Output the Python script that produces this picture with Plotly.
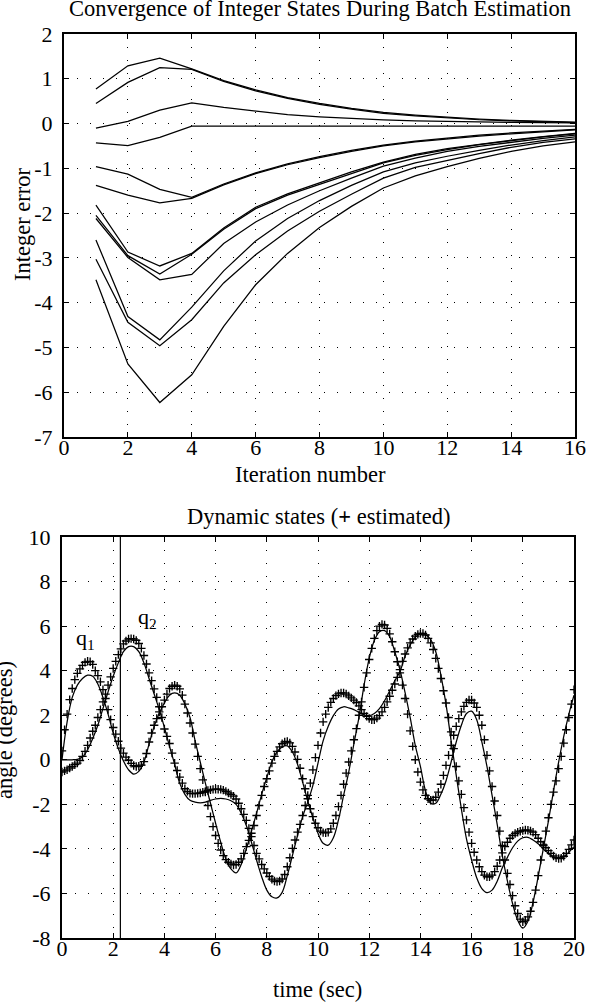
import plotly.graph_objects as go

# ---------------- top panel data ----------------
iterations = list(range(1, 17))
err_1 = [0.77, 1.29, 1.46, 1.22, 0.96, 0.75, 0.58, 0.45, 0.34, 0.25, 0.19, 0.14, 0.10, 0.07, 0.05, 0.03]
err_2 = [0.45, 0.92, 1.25, 1.21, 0.94, 0.73, 0.56, 0.43, 0.32, 0.23, 0.17, 0.12, 0.085, 0.06, 0.04, 0.02]
err_3 = [-0.10, 0.05, 0.30, 0.46, 0.36, 0.28, 0.20, 0.15, 0.11, 0.08, 0.06, 0.045, 0.035, 0.025, 0.02, 0.015]
err_4 = [-0.43, -0.49, -0.31, -0.06, -0.06, -0.06, -0.06, -0.06, -0.06, -0.06, -0.06, -0.06, -0.06, -0.06, -0.06, -0.06]
err_5 = [-0.96, -1.13, -1.47, -1.65, -1.35, -1.10, -0.90, -0.74, -0.60, -0.48, -0.39, -0.32, -0.26, -0.21, -0.17, -0.13]
err_6 = [-1.38, -1.60, -1.77, -1.67, -1.37, -1.12, -0.92, -0.76, -0.62, -0.50, -0.41, -0.34, -0.28, -0.23, -0.18, -0.14]
err_7 = [-1.82, -2.87, -3.18, -2.90, -2.33, -1.87, -1.57, -1.33, -1.08, -0.86, -0.69, -0.56, -0.46, -0.37, -0.29, -0.22]
err_8 = [-2.05, -2.95, -3.36, -2.92, -2.36, -1.90, -1.60, -1.36, -1.11, -0.88, -0.71, -0.58, -0.47, -0.38, -0.30, -0.23]
err_9 = [-2.12, -2.99, -3.49, -3.37, -2.68, -2.20, -1.82, -1.50, -1.22, -0.95, -0.77, -0.62, -0.51, -0.42, -0.33, -0.26]
err_10 = [-2.60, -4.31, -4.83, -4.10, -3.29, -2.62, -2.12, -1.72, -1.38, -1.08, -0.88, -0.73, -0.60, -0.48, -0.38, -0.30]
err_11 = [-3.03, -4.44, -4.96, -4.38, -3.56, -2.93, -2.40, -1.96, -1.58, -1.22, -0.98, -0.82, -0.67, -0.53, -0.42, -0.34]
err_12 = [-3.49, -5.37, -6.23, -5.61, -4.53, -3.60, -2.90, -2.32, -1.85, -1.44, -1.17, -0.96, -0.78, -0.62, -0.50, -0.41]
top_lines = [err_1, err_2, err_3, err_4, err_5, err_6, err_7, err_8, err_9, err_10, err_11, err_12]

top_xticks = [0, 2, 4, 6, 8, 10, 12, 14, 16]
top_xlabels = ["0", "2", "4", "6", "8", "10", "12", "14", "16"]
top_yticks = [-7, -6, -5, -4, -3, -2, -1, 0, 1, 2]
top_ylabels = ["-7", "-6", "-5", "-4", "-3", "-2", "-1", "0", "1", "2"]

# ---------------- bottom panel data ----------------
t_true = [i / 5 for i in range(101)]      # 0 .. 20 s, 0.2 s
t_est = [i / 10 for i in range(201)]      # 0 .. 20 s, 0.1 s

q1_true = [0.0, 1.7, 2.8, 3.35, 3.65, 3.8, 3.75, 3.4, 2.8, 2.05,
           1.2, 0.5, -0.05, -0.45, -0.64, -0.52, -0.1, 0.7, 1.5, 2.1,
           2.55, 2.9, 3.0, 2.9, 2.5, 1.9, 0.85, -0.1, -1.05, -1.95,
           -2.85, -3.7, -4.45, -4.9, -5.08, -4.7, -4.0, -3.2, -2.4, -1.55,
           -0.8, -0.1, 0.35, 0.58, 0.62, 0.35, -0.2, -1.0, -1.85, -2.6,
           -3.3, -3.75, -3.83, -3.5, -2.7, -1.6, -0.55, 0.7, 1.9, 3.35,
           4.55, 5.35, 5.75, 5.8, 5.52, 4.85, 4.05, 3.03, 1.9, 0.65,
           -0.3, -1.4, -1.95, -1.95, -1.55, -0.95, -0.1, 0.8, 1.55, 2.08,
           2.18, 1.8, 0.8, -0.3, -1.6, -2.9, -4.3, -5.45, -6.45, -7.2,
           -7.56, -7.25, -6.4, -5.25, -4.0, -2.75, -1.4, -0.1, 1.05, 2.05,
           2.9]
q2_true = [0.0, 0.0, 0.0, 0.02, 0.12, 0.45, 0.95, 1.55, 2.3, 3.05,
           3.75, 4.35, 4.85, 5.08, 5.08, 4.85, 4.35, 3.65, 2.95, 2.25,
           1.45, 0.6, -0.2, -1.06, -1.55, -1.82, -1.9, -1.93, -1.9, -1.82,
           -1.76, -1.73, -1.76, -1.84, -2.0, -2.4, -2.95, -3.7, -4.5, -5.25,
           -5.85, -6.15, -6.2, -5.95, -5.2, -4.3, -3.4, -2.55, -1.9, -1.15,
           -0.15, 0.85, 1.5, 1.98, 2.28, 2.38, 2.33, 2.25, 2.13, 2.02,
           1.98, 2.08, 2.3, 2.65, 3.1, 3.55, 3.95, 4.65, 5.15, 5.5,
           5.65, 5.62, 5.4, 4.85, 3.8, 2.5, 0.85, -0.7, -2.2, -3.55,
           -4.5, -5.3, -5.78, -5.96, -5.85, -5.45, -4.85, -4.38, -3.95, -3.65,
           -3.5, -3.48, -3.6, -3.77, -4.0, -4.2, -4.36, -4.42, -4.35, -4.15,
           -3.9]
q1_est = [0.4, 1.35, 2.05, 2.7, 3.2, 3.6, 3.88, 4.08, 4.24, 4.37,
          4.42, 4.4, 4.28, 4.0, 3.78, 3.5, 3.15, 2.75, 2.25, 1.8,
          1.45, 1.15, 0.83, 0.52, 0.3, 0.12, -0.02, -0.16, -0.26, -0.3,
          -0.29, -0.24, -0.08, 0.28, 0.8, 1.2, 1.55, 1.85, 2.15, 2.38,
          2.68, 2.95, 3.2, 3.3, 3.35, 3.3, 3.18, 2.9, 2.5, 2.1,
          1.65, 1.2, 0.7, 0.15, -0.4, -0.9, -1.45, -2.05, -2.55, -3.0,
          -3.4, -3.75, -4.05, -4.3, -4.48, -4.6, -4.68, -4.72, -4.7, -4.6,
          -4.45, -4.2, -3.9, -3.62, -3.3, -2.95, -2.5, -2.05, -1.6, -1.2,
          -0.85, -0.5, -0.15, 0.15, 0.38, 0.58, 0.72, 0.8, 0.82, 0.76,
          0.6, 0.35, 0.02, -0.38, -0.85, -1.3, -1.75, -2.2, -2.55, -2.85,
          -3.05, -3.2, -3.27, -3.28, -3.25, -3.1, -2.85, -2.5, -2.1, -1.6,
          -1.1, -0.6, -0.1, 0.4, 0.9, 1.4, 2.0, 2.6, 3.25, 3.9,
          4.5, 5.0, 5.45, 5.8, 6.0, 6.08, 6.05, 5.9, 5.65, 5.3,
          4.85, 4.4, 3.9, 3.35, 2.75, 2.05, 1.3, 0.6, 0.0, -0.55,
          -1.0, -1.35, -1.6, -1.75, -1.82, -1.8, -1.68, -1.45, -1.1, -0.7,
          -0.25, 0.2, 0.65, 1.1, 1.5, 1.85, 2.15, 2.4, 2.58, 2.68,
          2.68, 2.55, 2.35, 2.0, 1.55, 0.9, 0.2, -0.5, -1.2, -1.85,
          -2.5, -3.2, -3.85, -4.5, -5.1, -5.6, -6.1, -6.55, -6.9, -7.15,
          -7.27, -7.2, -7.05, -6.8, -6.4, -5.85, -5.2, -4.5, -3.85, -3.2,
          -2.6, -2.0, -1.45, -0.95, -0.4, 0.15, 0.75, 1.35, 1.9, 2.5,
          3.15]
q2_est = [-0.55, -0.5, -0.45, -0.37, -0.3, -0.22, -0.15, -0.03, 0.15, 0.38,
          0.65, 0.98, 1.28, 1.55, 1.9, 2.25, 2.6, 2.95, 3.35, 3.72,
          4.1, 4.42, 4.72, 4.98, 5.2, 5.33, 5.42, 5.44, 5.42, 5.36,
          5.22, 5.0, 4.68, 4.3, 3.9, 3.55, 3.18, 2.8, 2.38, 1.9,
          1.38, 1.05, 0.73, 0.3, -0.15, -0.48, -0.78, -1.05, -1.3, -1.42,
          -1.5, -1.52, -1.52, -1.51, -1.49, -1.45, -1.42, -1.38, -1.35, -1.33,
          -1.32, -1.32, -1.33, -1.36, -1.42, -1.49, -1.56, -1.63, -1.76, -1.95,
          -2.2, -2.45, -2.72, -3.08, -3.45, -3.85, -4.2, -4.45, -4.7, -4.9,
          -5.08, -5.24, -5.36, -5.44, -5.47, -5.44, -5.35, -5.15, -4.8, -4.4,
          -3.98, -3.6, -3.25, -2.9, -2.5, -2.05, -1.6, -1.05, -0.45, 0.1,
          0.65, 1.2, 1.7, 2.05, 2.35, 2.58, 2.75, 2.88, 2.96, 3.0,
          3.0, 2.95, 2.87, 2.78, 2.68, 2.57, 2.42, 2.25, 2.08, 1.95,
          1.85, 1.8, 1.8, 1.87, 1.98, 2.15, 2.35, 2.6, 2.85, 3.12,
          3.4, 3.7, 4.05, 4.42, 4.75, 5.02, 5.25, 5.42, 5.55, 5.63,
          5.67, 5.67, 5.6, 5.45, 5.25, 4.95, 4.55, 4.1, 3.65, 3.1,
          2.55, 1.9, 1.25, 0.5, -0.3, -0.95, -1.55, -2.15, -2.7, -3.25,
          -3.75, -4.15, -4.5, -4.8, -5.02, -5.18, -5.25, -5.25, -5.18, -5.02,
          -4.78, -4.5, -4.18, -3.9, -3.7, -3.52, -3.4, -3.31, -3.25, -3.21,
          -3.18, -3.15, -3.16, -3.2, -3.25, -3.36, -3.52, -3.68, -3.82, -3.95,
          -4.08, -4.2, -4.32, -4.4, -4.43, -4.42, -4.33, -4.2, -4.02, -3.82,
          -3.6]

cursor_t = [2.28, 2.28]
cursor_y = [-8, 10]

bot_xticks = [0, 2, 4, 6, 8, 10, 12, 14, 16, 18, 20]
bot_xlabels = ["0", "2", "4", "6", "8", "10", "12", "14", "16", "18", "20"]
bot_yticks = [-8, -6, -4, -2, 0, 2, 4, 6, 8, 10]
bot_ylabels = ["-8", "-6", "-4", "-2", "0", "2", "4", "6", "8", "10"]

# ---------------- figure ----------------
W, H = 598, 1003
FONT = "Liberation Serif"

def px_x(p):
    return p / W

def px_y(p):
    return 1 - p / H

fig = go.Figure()

for vals in top_lines:
    fig.add_trace(go.Scatter(x=iterations, y=vals, mode="lines",
                             line=dict(color="black", width=1.25),
                             xaxis="x", yaxis="y", showlegend=False, hoverinfo="skip"))

for tt, qq in ((t_true, q1_true), (t_true, q2_true)):
    fig.add_trace(go.Scatter(x=tt, y=qq, mode="lines",
                             line=dict(color="black", width=1.25, shape="spline", smoothing=1.0),
                             xaxis="x2", yaxis="y2", showlegend=False, hoverinfo="skip"))

for qq in (q1_est, q2_est):
    fig.add_trace(go.Scatter(x=t_est, y=qq, mode="markers",
                             marker=dict(symbol="cross-thin", size=6, color="black",
                                         line=dict(color="black", width=1.35)),
                             xaxis="x2", yaxis="y2", showlegend=False, hoverinfo="skip"))

fig.add_trace(go.Scatter(x=cursor_t, y=cursor_y, mode="lines",
                         line=dict(color="black", width=1.2),
                         xaxis="x2", yaxis="y2", showlegend=False, hoverinfo="skip"))

axis_common = dict(
    showline=True, linecolor="black", linewidth=2, mirror="ticks",
    ticks="inside", ticklen=5, tickwidth=1.2, tickcolor="black",
    showgrid=True, gridcolor="black", gridwidth=1.3, griddash="1.3px,11.7px",
    zeroline=False, tickfont=dict(family=FONT, size=22, color="black"),
    tickmode="array", fixedrange=True, automargin=False,
)

fig.update_layout(
    width=W, height=H,
    margin=dict(l=0, r=0, t=0, b=0, autoexpand=False),
    paper_bgcolor="white", plot_bgcolor="white",
    font=dict(family=FONT, color="black"),
    xaxis=dict(axis_common, domain=[px_x(64), px_x(575)], range=[0, 16],
               tickvals=top_xticks, ticktext=top_xlabels, anchor="y", ticklabelstandoff=-10),
    yaxis=dict(axis_common, domain=[px_y(437), px_y(34)], range=[-7, 2],
               tickvals=top_yticks, ticktext=top_ylabels, anchor="x", ticklabelstandoff=5),
    xaxis2=dict(axis_common, domain=[px_x(62), px_x(574)], range=[0, 20],
                tickvals=bot_xticks, ticktext=bot_xlabels, anchor="y2", ticklabelstandoff=-10),
    yaxis2=dict(axis_common, domain=[px_y(938), px_y(537)], range=[-8, 10],
                tickvals=bot_yticks, ticktext=bot_ylabels, anchor="x2", ticklabelstandoff=5),
)

def text(x, y, s, size=22.5, angle=0):
    fig.add_annotation(x=px_x(x), y=px_y(y), xref="paper", yref="paper", text=s,
                       showarrow=False, textangle=angle, xanchor="center", yanchor="middle",
                       font=dict(family=FONT, size=size, color="black"))

text(320, 8, "Convergence of Integer States During Batch Estimation")
text(23, 224, "Integer error", angle=-90)
text(310, 474, "Iteration number")
text(318, 516, "Dynamic states (<b>+</b> estimated)")
text(4, 730, "angle (degrees)", angle=-90)
text(317, 989, "time (sec)")

fig.add_annotation(x=0.93, y=5.4, xref="x2", yref="y2", text="q<sub>1</sub>", showarrow=False,
                   xanchor="center", yanchor="middle", font=dict(family=FONT, size=22, color="black"))
fig.add_annotation(x=3.35, y=6.35, xref="x2", yref="y2", text="q<sub>2</sub>", showarrow=False,
                   xanchor="center", yanchor="middle", font=dict(family=FONT, size=22, color="black"))

fig.write_html("out.html", config={"displayModeBar": False},
               post_script="document.body.style.margin='0';document.body.style.overflow='hidden';")
